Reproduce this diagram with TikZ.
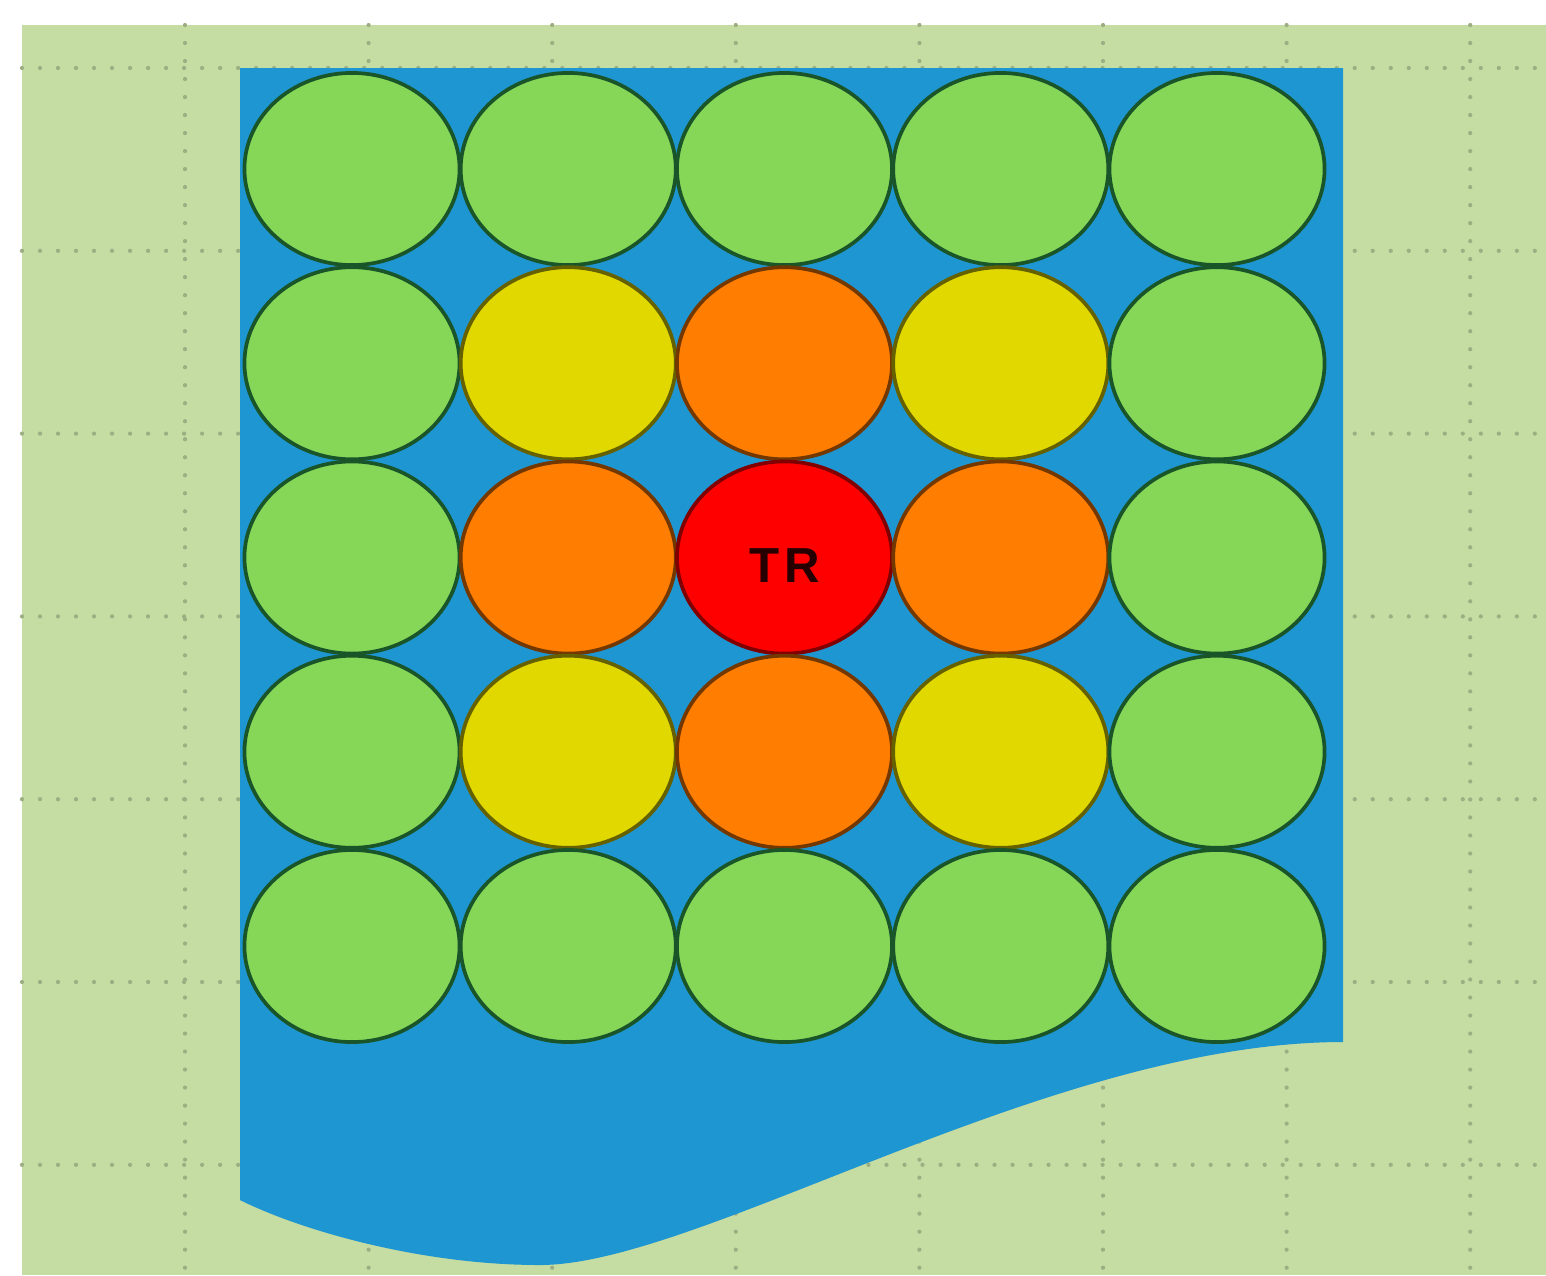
\documentclass[tikz,border=0pt]{standalone}
\usepackage{fontspec}
\setsansfont{Liberation Sans}
\usepackage{xcolor}
\usetikzlibrary{shapes.geometric,positioning}

\definecolor{paper}{RGB}{197,220,163}
\definecolor{gridgray}{RGB}{155,175,130}
\definecolor{water}{RGB}{30,150,210}
\definecolor{leafgreen}{RGB}{134,214,88}
\definecolor{rodyellow}{RGB}{225,216,0}
\definecolor{rodorange}{RGB}{255,125,0}
\definecolor{rodred}{RGB}{255,0,0}
\definecolor{rimgreen}{RGB}{25,85,40}

\begin{document}
\begin{tikzpicture}[x=0.01cm, y=-0.01cm,
    rod/.style={ellipse, draw, line width=1.05pt, minimum width=2.15cm, minimum height=1.92cm, inner sep=0pt},
    outer/.style={rod, fill=leafgreen, draw=rimgreen},
    corner/.style={rod, fill=rodyellow, draw=black!55!rodyellow},
    side/.style={rod, fill=rodorange, draw=black!55!rodorange},
    centre/.style={rod, fill=rodred, draw=black!50!rodred},
    tag/.style={font=\sffamily\bfseries\fontsize{14}{14}\selectfont, text=black!85!rodred, inner sep=0pt},
    gridline/.style={draw=gridgray, line width=1.2pt, line cap=round, dash pattern=on 0pt off 0.18cm}]

    % Page and background
    \fill[white] (0,0) rectangle (1546,1275);
    \fill[paper] (22,25) rectangle (1546,1275);
    \useasboundingbox (0,0) rectangle (1546,1275);

    % Dotted grid
    \foreach \i in {0,...,7}
        \path[gridline] ({185+183.6*\i},25) -- ({185+183.6*\i},1275);
    \foreach \j in {0,...,6}
        \path[gridline] (22,{68+182.8*\j}) -- (1546,{68+182.8*\j});

    % Coolant region
    \fill[water] (240,68) -- (1343,68) -- (1343,1042)
        .. controls (1050,1042) and (700,1265) .. (540,1265)
        .. controls (420,1265) and (300,1230) .. (240,1200) -- cycle;

    % Rods
    \foreach \r in {1,...,5}
        \foreach \c in {1,...,5} {
            \pgfmathtruncatemacro{\dr}{abs(\r-3)}
            \pgfmathtruncatemacro{\dc}{abs(\c-3)}
            \pgfmathtruncatemacro{\ring}{max(\dr,\dc)}
            \pgfmathtruncatemacro{\dist}{\dr+\dc}
            \ifnum\ring=2
                \def\kind{outer}
            \else\ifnum\dist=2
                \def\kind{corner}
            \else\ifnum\dist=1
                \def\kind{side}
            \else
                \def\kind{centre}
            \fi\fi\fi
            \node[\kind] (rod\r\c) at ({352+216.25*(\c-1)},{169+194.25*(\r-1)}) {};
        }

    % Label of the centre rod
    \node[tag] (trtag) at ([yshift=-0.08cm]rod33.center) {T\kern1.5pt R};

\end{tikzpicture}
\end{document}
